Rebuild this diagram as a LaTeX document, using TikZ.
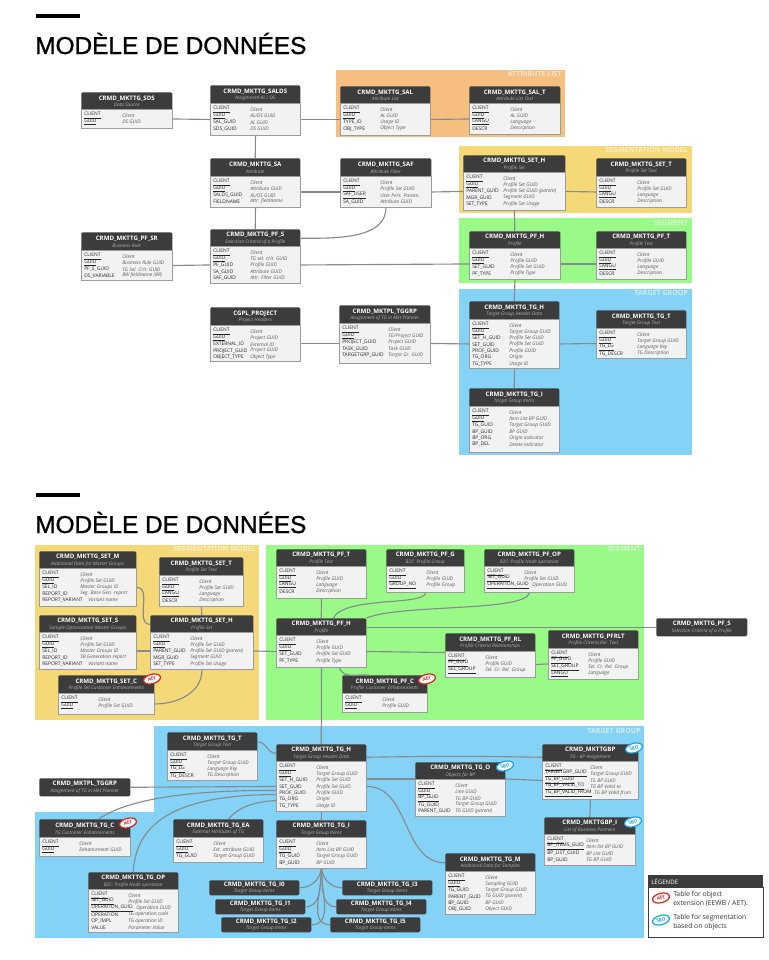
\documentclass[tikz,border=0pt]{standalone}
\usepackage{fontspec}
\setmainfont{Open Sans}
\newfontfamily\titlefont[FakeBold=1.2]{Liberation Sans}
\usetikzlibrary{calc,shapes.geometric}
\definecolor{darkhead}{HTML}{3C3C3C}
\definecolor{bodygrey}{HTML}{F2F2F2}
\definecolor{edgegrey}{HTML}{9C9C9C}
\definecolor{linkgrey}{HTML}{858C8E}
\definecolor{panelorange}{HTML}{F6BE7F}
\definecolor{panelyellow}{HTML}{F5D878}
\definecolor{panelgreen}{HTML}{99FA88}
\definecolor{panelblue}{HTML}{84D2F5}
\definecolor{aetred}{HTML}{E0201C}
\definecolor{sboblue}{HTML}{18A4E4}
\tikzset{
  headbox/.style={fill=darkhead, text=white, rounded corners=1pt, anchor=north west, inner sep=0pt, align=center, font=\bfseries\fontsize{4.6}{5}\selectfont},
  bodybox/.style={fill=bodygrey, draw=edgegrey, line width=0.7pt, anchor=north west, inner sep=0pt},
  keytext/.style={anchor=west, inner sep=0pt, text=black!85, font=\fontsize{3.7}{4}\selectfont},
  desctext/.style={anchor=west, inner sep=0pt, text=black!65, font=\itshape\fontsize{3.7}{4}\selectfont},
  link/.style={draw=linkgrey, line width=0.85pt},
  paneltitle/.style={anchor=north east, inner sep=0pt, text=white, opacity=0.6, font=\bfseries\fontsize{5.3}{6}\selectfont},
  aet/.style={ellipse, draw=aetred, fill=white, text=aetred, line width=0.9pt, rotate=15, inner sep=0pt, minimum width=13pt, minimum height=7pt, font=\bfseries\fontsize{3.5}{4}\selectfont},
  sbo/.style={ellipse, draw=sboblue, fill=white, text=sboblue, line width=0.9pt, rotate=15, inner sep=0pt, minimum width=13pt, minimum height=7pt, font=\bfseries\fontsize{3.5}{4}\selectfont},
  legendtext/.style={anchor=west, inner sep=0pt, align=left, text=black!80, font=\fontsize{5.1}{6.7}\selectfont},
  mainheading/.style={anchor=base west, inner sep=0pt, font=\titlefont\fontsize{18.3}{20}\selectfont}
}
\newcommand{\pk}[1]{\underline{#1}}
% id, x1, y1, x2, y2, title, subtitle
\newcommand{\tablehead}[7]{
  \node[headbox, minimum width={(#4-#2)*0.75pt}, minimum height={(#5-#3)*0.75pt}] (#1) at (#2,#3)
    {#6\\{\itshape\mdseries\color{white!70!black}\fontsize{3.6}{4.2}\selectfont #7}};
}
% id, x1, y1, x2, y2, column offset, rows
\newcommand{\tablebody}[7]{
  \node[bodybox, minimum width={(#4-#2)*0.75pt}, minimum height={(#5-#3+1)*0.75pt}] (#1B) at (#2,#3-1) {};
  \foreach \k/\d [count=\i] in {#7} {
    \node[keytext] (#1k\i) at ({#2+3},{#3+5.5+(\i-1)*6.4}) {\k};
    \node[desctext] (#1d\i) at ({#2+#6},{#3+5.5+(\i-1)*6.4}) {\d};
  }
}
\catcode`\_=12
\begin{document}
\begin{tikzpicture}[x=0.75pt,y=-0.75pt]
  \useasboundingbox (0,0) rectangle (768,960);

  % Headings
  \fill (36,14) rectangle (80,18);
  \node[mainheading] (headA) at (35,54) {MODÈLE DE DONNÉES};
  \fill (36,493) rectangle (80,497);
  \node[mainheading] (headB) at (35,533) {MODÈLE DE DONNÉES};

  % Panels, first page
  \fill[panelorange] (336,70) rectangle (565,137);
  \fill[panelyellow] (459,146) rectangle (692,213);
  \fill[panelgreen] (459,218) rectangle (692,283);
  \fill[panelblue] (459,289) rectangle (692,455);
  \node[paneltitle] (lblA) at (562,71) {ATTRIBUTE LIST};
  \node[paneltitle] (lblB) at (688,147) {SEGMENTATION MODEL};
  \node[paneltitle] (lblC) at (688,220) {SEGMENT};
  \node[paneltitle] (lblD) at (688,290) {TARGET GROUP};

  % Tables, first page
  \tablehead{sds}{81}{92}{172}{110}{CRMD_MKTTG_SDS}{Data Source}
  \tablebody{sds}{81}{110}{172}{128}{41}{\pk{CLIENT}/Client,\pk{GUID}/DS GUID}
  \tablehead{salds}{210}{85}{300}{104}{CRMD_MKTTG_SALDS}{Assignment AL / DS}
  \tablebody{salds}{210}{104}{300}{135}{40}{\pk{CLIENT}/Client,\pk{GUID}/{AL/DS GUID},SAL_GUID/AL GUID,SDS_GUID/DS GUID}
  \tablehead{sal}{340}{86}{430}{104}{CRMD_MKTTG_SAL}{Attribute List}
  \tablebody{sal}{340}{104}{430}{135}{40}{\pk{CLIENT}/Client,\pk{GUID}/AL GUID,TYPE_ID/Usage ID,OBJ_TYPE/Object Type}
  \tablehead{salt}{469}{86}{560}{104}{CRMD_MKTTG_SAL_T}{Attribute List Text}
  \tablebody{salt}{469}{104}{560}{134}{41}{\pk{CLIENT}/Client,\pk{GUID}/AL GUID,\pk{LANGU}/Language,DESCR/Description}
  \tablehead{sa}{210}{158}{300}{177}{CRMD_MKTTG_SA}{Attribute}
  \tablebody{sa}{210}{177}{300}{207}{40}{\pk{CLIENT}/Client,\pk{GUID}/Attribute GUID,SALDS_GUID/{AL/DS GUID},FIELDNAME/Attr. fieldname}
  \tablehead{saf}{340}{158}{431}{177}{CRMD_MKTTG_SAF}{Attribute Filter}
  \tablebody{saf}{340}{177}{431}{207}{40}{\pk{CLIENT}/Client,\pk{GUID}/Profile Set GUID,\pk{SAF_USER}/User Pers. Param.,SA_GUID/Attribute GUID}
  \tablehead{seth}{463}{155}{565}{173}{CRMD_MKTTG_SET_H}{Profile Set}
  \tablebody{seth}{463}{173}{565}{210}{40}{\pk{CLIENT}/Client,\pk{GUID}/Profile Set GUID,PARENT_GUID/Profile Set GUID (parent),MGR_GUID/Segment GUID,SET_TYPE/Profile Set Usage}
  \tablehead{sett}{596}{158}{686}{177}{CRMD_MKTTG_SET_T}{Profile Set Text}
  \tablebody{sett}{596}{177}{686}{207}{41}{\pk{CLIENT}/Client,\pk{GUID}/Profile Set GUID,\pk{LANGU}/Language,DESCR/Description}
  \tablehead{pfsr}{81}{232}{172}{251}{CRMD_MKTTG_PF_SR}{Business Rule}
  \tablebody{pfsr}{81}{251}{172}{280}{41}{\pk{CLIENT}/Client,\pk{GUID}/Business Rule GUID,PF_S_GUID/TG Sel. Crit. GUID,DS_VARIABLE/BW fieldname (BR)}
  \tablehead{pfs}{210}{229}{300}{247}{CRMD_MKTTG_PF_S}{Selection Criteria of a Profile}
  \tablebody{pfs}{210}{247}{300}{283}{40}{\pk{CLIENT}/Client,\pk{GUID}/TG sel. crit. GUID,PF_GUID/Profile GUID,SA_GUID/Attribute GUID,SAF_GUID/Attr. Filter GUID}
  \tablehead{pfh}{469}{231}{560}{249}{CRMD_MKTTG_PF_H}{Profile}
  \tablebody{pfh}{469}{249}{560}{279}{41}{\pk{CLIENT}/Client,\pk{GUID}/Profile GUID,SET_GUID/Profile Set GUID,PF_TYPE/Profile Type}
  \tablehead{pft}{596}{231}{686}{249}{CRMD_MKTTG_PF_T}{Profile Text}
  \tablebody{pft}{596}{249}{686}{279}{41}{\pk{CLIENT}/Client,\pk{GUID}/Profile GUID,\pk{LANGU}/Language,DESCR/Description}
  \tablehead{proj}{210}{307}{300}{326}{CGPL_PROJECT}{Project Headers}
  \tablebody{proj}{210}{326}{300}{361}{40}{\pk{CLIENT}/Client,\pk{GUID}/Project GUID,EXTERNAL_ID/External ID,PROJECT_GUID/Project GUID,OBJECT_TYPE/Object Type}
  \tablehead{tggrp}{339}{305}{430}{324}{CRMD_MKTPL_TGGRP}{Assignment of TG in Mkt Planner}
  \tablebody{tggrp}{339}{324}{430}{363}{49}{\pk{CLIENT}/Client,\pk{GUID}/{TG/Project GUID},PROJECT_GUID/Project GUID,TASK_GUID/Task GUID,TARGETGRP_GUID/Target Gr. GUID}
  \tablehead{tgh}{469}{301}{559}{320}{CRMD_MKTTG_TG_H}{Target Group Header Data}
  \tablebody{tgh}{469}{320}{559}{368}{40}{\pk{CLIENT}/Client,\pk{GUID}/Target Group GUID,SET_H_GUID/Profile Set GUID,SET_GUID/Profile Set GUID,PROF_GUID/Profile GUID,TG_ORG/Origin,TG_TYPE/Usage ID}
  \tablehead{tgt}{596}{310}{686}{329}{CRMD_MKTTG_TG_T}{Target Group Text}
  \tablebody{tgt}{596}{329}{686}{358}{41}{\pk{CLIENT}/Client,\pk{GUID}/Target Group GUID,\pk{TG_LG}/Language Key,TG_DESCR/TG Description}
  \tablehead{tgi}{469}{388}{559}{407}{CRMD_MKTTG_TG_I}{Target Group Items}
  \tablebody{tgi}{469}{407}{559}{452}{40}{\pk{CLIENT}/Client,\pk{GUID}/Item List BP GUID,TG_GUID/Target Group GUID,BP_GUID/BP GUID,BP_ORG/Origin indicator,BP_DEL/Delete indicator}

  % Links, first page
  \draw[link] (sdsB.east) -- (saldsB.west);
  \draw[link] (saldsB.east) -- (salB.west);
  \draw[link] (salB.east) -- (saltB.west);
  \draw[link] (saldsB.south) -- (sa.north);
  \draw[link] (saB.south) -- (pfs.north);
  \draw[link] (saB.east) -- (safB.west);
  \draw[link] (safB.east) -- (sethB.west);
  \draw[link] (sethB.east) -- (settB.west);
  \draw[link] (safB.south) to[out=-90,in=0,looseness=0.9] (pfs.east);
  \draw[link] (pfsrB.east) -- (pfsB.west);
  \draw[link] (pfsB.east) -- (pfhB.west);
  \draw[link] (pfhB.east) -- (pftB.west);
  \draw[link] (sethB.south) -- (pfh.north);
  \draw[link] (pfhB.south) -- (tgh.north);
  \draw[link] (projB.east) -- (tggrpB.west);
  \draw[link] (tggrpB.east) -- (tghB.west);
  \draw[link] (tghB.east) -- (tgtB.west);
  \draw[link] (tghB.south) -- (tgi.north);

  % Panels, second page
  \fill[panelyellow] (35,545) rectangle (259,720);
  \fill[panelgreen] (266,545) rectangle (644,720);
  \fill[panelblue] (154,726) -- (644,726) -- (644,938) -- (35,938) -- (35,812) -- (154,812) -- cycle;
  \node[paneltitle] (lblE) at (256,546) {SEGMENTATION MODEL};
  \node[paneltitle] (lblF) at (641,546) {SEGMENT};
  \node[paneltitle] (lblG) at (641,728) {TARGET GROUP};

  % Tables, second page
  \tablehead{bsetm}{39}{551}{136}{569}{CRMD_MKTTG_SET_M}{Additional Data for Master Groups}
  \tablebody{bsetm}{39}{569}{136}{606}{41}{\pk{CLIENT}/Client,\pk{GUID}/Profile Set GUID,SEL_ID/Master Groups ID,REPORT_ID/Seg. Base Gen. report,REPORT_VARIANT/\hspace*{6pt}Variant name}
  \tablehead{bsett}{159}{557}{243}{576}{CRMD_MKTTG_SET_T}{Profile Set Text}
  \tablebody{bsett}{159}{576}{243}{606}{40}{\pk{CLIENT}/Client,\pk{GUID}/Profile Set GUID,\pk{LANGU}/Language,DESCR/Description}
  \tablehead{bsets}{39}{615}{136}{633}{CRMD_MKTTG_SET_S}{Sample Optimization Master Groups}
  \tablebody{bsets}{39}{633}{136}{669}{41}{\pk{CLIENT}/Client,\pk{GUID}/Profile Set GUID,SEL_ID/Master Groups ID,REPORT_ID/SB Generation report,REPORT_VARIANT/\hspace*{6pt}Variant name}
  \tablehead{bseth}{150}{615}{253}{633}{CRMD_MKTTG_SET_H}{Profile Set}
  \tablebody{bseth}{150}{633}{253}{669}{40}{\pk{CLIENT}/Client,\pk{GUID}/Profile Set GUID,PARENT_GUID/Profile Set GUID (parent),MGR_GUID/Segment GUID,SET_TYPE/Profile Set Usage}
  \tablehead{bsetc}{58}{675}{154}{694}{CRMD_MKTTG_SET_C}{Profile Set Customer Enhancements}
  \tablebody{bsetc}{58}{694}{154}{714}{40}{\pk{CLIENT}/Client,\pk{GUID}/Profile Set GUID}
  \tablehead{bpft}{276}{549}{366}{567}{CRMD_MKTTG_PF_T}{Profile Text}
  \tablebody{bpft}{276}{567}{366}{598}{40}{\pk{CLIENT}/Client,\pk{GUID}/Profile GUID,\pk{LANGU}/Language,DESCR/Description}
  \tablehead{bpfg}{386}{549}{464}{567}{CRMD_MKTTG_PF_G}{B2C: Profile Group}
  \tablebody{bpfg}{386}{567}{464}{592}{40}{\pk{CLIENT}/Client,\pk{GUID}/Profile GUID,\pk{GROUP_NO}/Profile Group}
  \tablehead{bpfop}{484}{549}{574}{567}{CRMD_MKTTG_PF_OP}{B2C: Profile Node operation}
  \tablebody{bpfop}{484}{567}{574}{592}{40}{\pk{CLIENT}/Client,\pk{SET_GUID}/Profile Set GUID,\pk{OPERATION_GUID}/\hspace*{6pt}Operation GUID}
  \tablehead{bpfh}{276}{618}{366}{636}{CRMD_MKTTG_PF_H}{Profile}
  \tablebody{bpfh}{276}{636}{366}{667}{40}{\pk{CLIENT}/Client,\pk{GUID}/Profile GUID,SET_GUID/Profile Set GUID,PF_TYPE/Profile Type}
  \tablehead{bpfrl}{445}{633}{535}{652}{CRMD_MKTTG_PF_RL}{Profile Criteria Relationships}
  \tablebody{bpfrl}{445}{652}{535}{677}{40}{\pk{CLIENT}/Client,\pk{PF_GUID}/Profile GUID,\pk{SEL_GROUP}/Sel. Cr. Rel. Group}
  \tablehead{bpfrlt}{548}{630}{638}{649}{CRMD_MKTTG_PFRLT}{Profile Criteria Rel. Text}
  \tablebody{bpfrlt}{548}{649}{638}{679}{40}{\pk{CLIENT}/Client,\pk{PF_GUID}/Profile GUID,\pk{SEL_GROUP}/Sel. Cr. Rel. Group,\pk{LANGU}/Language}
  \tablehead{bpfc}{342}{675}{427}{694}{CRMD_MKTTG_PF_C}{Profile Customer Enhancements}
  \tablebody{bpfc}{342}{694}{427}{712}{40}{\pk{CLIENT}/Client,\pk{GUID}/Profile GUID}
  \tablehead{bpfs}{656}{618}{747}{636}{CRMD_MKTTG_PF_S}{Selection Criteria of a Profile}

  \tablehead{btgt}{167}{732}{257}{751}{CRMD_MKTTG_TG_T}{Target Group Text}
  \tablebody{btgt}{167}{751}{257}{780}{40}{\pk{CLIENT}/Client,\pk{GUID}/Target Group GUID,\pk{TG_LG}/Language Key,TG_DESCR/TG Description}
  \tablehead{btggrp}{39}{778}{130}{796}{CRMD_MKTPL_TGGRP}{Assignment of TG in Mkt Planner}
  \tablehead{btgc}{39}{819}{130}{838}{CRMD_MKTTG_TG_C}{TG Customer Enhancements}
  \tablebody{btgc}{39}{838}{130}{856}{40}{\pk{CLIENT}/Client,\pk{GUID}/Enhancement GUID}
  \tablehead{btgea}{173}{819}{263}{838}{CRMD_MKTTG_TG_EA}{External Attributes of TG}
  \tablebody{btgea}{173}{838}{263}{862}{40}{\pk{CLIENT}/Client,\pk{GUID}/Ext. attribute GUID,TG_GUID/Target Group GUID}
  \tablehead{btgop}{88}{872}{178}{890}{CRMD_MKTTG_TG_OP}{B2C: Profile Node operation}
  \tablebody{btgop}{88}{890}{178}{932}{40}{\pk{CLIENT}/Client,\pk{SET_GUID}/Profile Set GUID,\pk{OPERATION_GUID}/\hspace*{6pt}Operation GUID,OPERATION/TG operation code,OP_IMPL/TG operation ID,VALUE/Parameter Value}
  \tablehead{btgh}{276}{744}{366}{762}{CRMD_MKTTG_TG_H}{Target Group Header Data}
  \tablebody{btgh}{276}{762}{366}{811}{40}{\pk{CLIENT}/Client,\pk{GUID}/Target Group GUID,SET_H_GUID/Profile Set GUID,SET_GUID/Profile Set GUID,PROF_GUID/Profile GUID,TG_ORG/Origin,TG_TYPE/Usage ID}
  \tablehead{btgi}{276}{820}{366}{838}{CRMD_MKTTG_TG_I}{Target Group Items}
  \tablebody{btgi}{276}{838}{366}{868}{40}{\pk{CLIENT}/Client,\pk{GUID}/Item List BP GUID,TG_GUID/Target Group GUID,BP_GUID/BP GUID}
  \tablehead{btgo}{415}{762}{505}{780}{CRMD_MKTTG_TG_O}{Objects for BP}
  \tablebody{btgo}{415}{780}{505}{816}{40}{\pk{CLIENT}/Client,\pk{GUID}/Line GUID,\pk{BP_GUID}/TG BP GUID,TG_GUID/Target Group GUID,PARENT_GUID/TG GUID (parent)}
  \tablehead{btgm}{445}{853}{535}{872}{CRMD_MKTTG_TG_M}{Additional Data for Samples}
  \tablebody{btgm}{445}{872}{535}{914}{40}{\pk{CLIENT}/Client,\pk{GUID}/Sampling GUID,TG_GUID/Target Group GUID,PARENT_GUID/TG GUID (parent),BP_GUID/BP GUID,OBJ_GUID/Object GUID}
  \tablehead{btgbp}{542}{744}{638}{762}{CRMD_MKTTGBP}{TG - BP Assignment}
  \tablebody{btgbp}{542}{762}{638}{799}{48}{\pk{CLIENT}/Client,\pk{TARGETGRP_GUID}/Target Group GUID,\pk{TG_BP_GUID}/TG BP GUID,\pk{TG_BP_VALID_TO}/TG BP Valid to,\pk{TG_BP_VALID_FROM}/\hspace*{3pt}TG BP Valid from}
  \tablehead{bbpi}{544}{817}{635}{835}{CRMD_MKTTGBP_I}{List of Business Partners}
  \tablebody{bbpi}{544}{835}{635}{865}{42}{\pk{CLIENT}/Client,\pk{BP_ITEMS_GUID}/Item list BP GUID,BP_LIST_GUID/BP List GUID,BP_GUID/TG BP GUID}
  \tablehead{bjz}{209}{880}{299}{895}{CRMD_MKTTG_TG_I0}{Target Group Items}
  \tablehead{bja}{215}{899}{305}{914}{CRMD_MKTTG_TG_I1}{Target Group Items}
  \tablehead{bjb}{221}{917}{311}{932}{CRMD_MKTTG_TG_I2}{Target Group Items}
  \tablehead{bjc}{342}{880}{432}{895}{CRMD_MKTTG_TG_I3}{Target Group Items}
  \tablehead{bjd}{336}{899}{426}{914}{CRMD_MKTTG_TG_I4}{Target Group Items}
  \tablehead{bje}{330}{917}{420}{932}{CRMD_MKTTG_TG_I5}{Target Group Items}

  % Links, second page
  \draw[link] (bsettB.south) -- (bseth.north);
  \draw[link] (bsetmB.east) to[out=0,in=180] (bseth.west);
  \draw[link] (bsetsB.east) -- (bsethB.west);
  \draw[link] (bsetcB.east) to[out=0,in=-90] (bsethB.south);
  \draw[link] (bsethB.east) -- (bpfhB.west);
  \draw[link] (bpftB.south) -- (bpfh.north);
  \draw[link] (bpfgB.south) .. controls (424,606) and (345,596) .. ($(bpfh.north)+(12,0)$);
  \draw[link] (bpfopB.south) .. controls (525,612) and (400,604) .. (bpfh.north east);
  \draw[link] (bpfh.east) -- (bpfs.west);
  \draw[link] (bpfhB.east) -- (bpfrl.south west);
  \draw[link] (bpfrlB.east) -- (bpfrltB.west);
  \draw[link] ($(bpfhB.south)+(18,0)$) to[out=-70,in=175] ($(bpfc.north)+(-16,0)$);
  \draw[link] (bpfhB.south) -- (btgh.north);
  \draw[link] (btghB.south) -- (btgi.north);
  \draw[link] (btgt.east) to[out=0,in=180] (btgh.west);
  \draw[link] (btggrp.east) -- (btghB.west);
  \draw[link] ($(btgc.north)+(14,0)$) .. controls (130,797) and (200,790) .. ($(btghB.west)+(0,4)$);
  \draw[link] (btgop.north) .. controls (136,820) and (180,795) .. ($(btghB.west)+(0,8)$);
  \draw[link] ($(btgea.north)+(10,0)$) .. controls (240,806) and (255,802) .. ($(btghB.west)+(0,14)$);
  \draw[link] ($(btgh.east)+(0,4)$) to[bend left=1] ($(btgbp.west)+(0,4)$);
  \draw[link] (btghB.east |- btgoB.north west) -- (btgoB.north west);
  \draw[link] (btgoB.north east) -- (btgbpB.west);
  \draw[link] (btghB.east) to[out=0,in=180] (btgm.west);
  \draw[link] (btgbpB.south) -- (bbpi.north);
  \draw[link] (btgiB.south) to[out=-100,in=0] (bjz.east);
  \draw[link] (btgiB.south) to[out=-95,in=0] (bja.east);
  \draw[link] (btgiB.south) to[out=-92,in=0] (bjb.east);
  \draw[link] (btgiB.south) to[out=-80,in=180] (bjc.west);
  \draw[link] (btgiB.south) to[out=-85,in=180] (bjd.west);
  \draw[link] (btgiB.south) to[out=-88,in=180] (bje.west);

  % Badges
  \node[aet] (badgeA) at (152,679) {AET};
  \node[aet] (badgeB) at (427,679) {AET};
  \node[aet] (badgeC) at (128,823) {AET};
  \node[sbo] (badgeD) at (505,766) {SBO};
  \node[sbo] (badgeE) at (634,748) {SBO};
  \node[sbo] (badgeF) at (633,822) {SBO};

  % Legend
  \node[bodybox, draw=darkhead, fill=white, minimum width={115*0.75pt}, minimum height={50*0.75pt}] (legendB) at (648,887) {};
  \node[headbox, rounded corners=0pt, minimum width={115*0.75pt}, minimum height={13*0.75pt}] (legend) at (648,875) {};
  \node[anchor=west, inner sep=0pt, text=white, font=\fontsize{4.6}{5}\selectfont] (legendT) at (651,882) {LÉGENDE};
  \node[aet] (legendA) at (661,898) {AET};
  \node[sbo] (legendS) at (661,920) {SBO};
  \node[legendtext] (legendC) at (673,898.5) {Table for object\\extension (EEWB / AET).};
  \node[legendtext] (legendD) at (673,922.5) {Table for segmentation\\based on objects};
\end{tikzpicture}
\end{document}
